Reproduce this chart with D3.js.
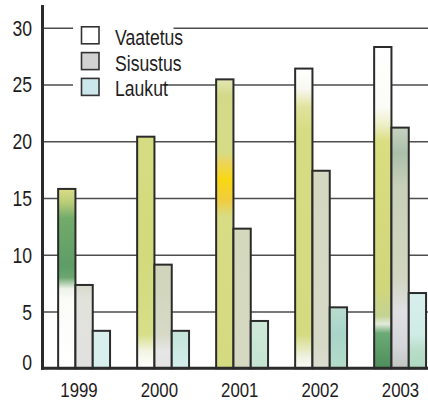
<!DOCTYPE html>
<html>
<head>
<meta charset="utf-8">
<script src="https://cdn.jsdelivr.net/npm/d3@7"></script>
<style>
  body { margin: 0; background: #fff; }
  svg { display: block; }
  text { font-family: "Liberation Sans", Arial, sans-serif; fill: #1f1c1d; }
</style>
</head>
<body>
<script>
// data
const years = ['1999', '2000', '2001', '2002', '2003'];
const series = ['Vaatetus', 'Sisustus', 'Laukut'];
const vaatetus = [15.8, 20.4, 25.45, 26.4, 28.3];
const sisustus = [7.34, 9.13, 12.3, 17.4, 21.2];
const laukut = [3.3, 3.3, 4.17, 5.37, 6.63];
const yTicks = [0, 5, 10, 15, 20, 25, 30];

const values = [vaatetus, sisustus, laukut];
const legendFill = ['#ffffff', '#d2d2d2', '#cbe7eb'];

// photo-like fill of each bar: [value, colour] stops, top to bottom
const textures = [
  [
    [[15.8, '#dadd86'], [14.6, '#b9cc78'], [13.2, '#72aa6a'], [9, '#5d9d66'], [8, '#6ca670'], [7, '#eef3ea'], [6, '#fbfcf8'], [0, '#ffffff']],
    [[20.4, '#d6dc82'], [10, '#d2da7c'], [3, '#d6de88'], [1.5, '#f3f5e4'], [0, '#ffffff']],
    [[25.45, '#e2e6b4'], [24, '#d3d988'], [19, '#d6dc86'], [18.2, '#ecd460'], [16.6, '#f8d812'], [14.8, '#f0cc40'], [13.4, '#d8dc84'], [0, '#d4da80']],
    [[26.4, '#ffffff'], [24.6, '#f8f8f2'], [23, '#e0e39c'], [21, '#d6dc82'], [3, '#d4da80'], [1, '#f0f2e0'], [0, '#fbfbf8']],
    [[28.3, '#ffffff'], [23, '#fbfbf8'], [21.5, '#eef0c8'], [20, '#dade80'], [7, '#d0d67a'], [4.6, '#c4d294'], [3.9, '#e2ecda'], [3.1, '#6caa76'], [0, '#4e8e5c']]
  ],
  [
    [[7.34, '#d8dacb'], [6, '#e2e2dc'], [0, '#e0e0e0']],
    [[9.13, '#d0d4ba'], [3, '#d6d9c6'], [1.5, '#e6e6e6'], [0, '#e4e4e4']],
    [[12.3, '#d4d8bc'], [0, '#d6d9c2']],
    [[17.4, '#d4d8c0'], [2, '#d6d9c6'], [0, '#dcded2']],
    [[21.2, '#c8d2c0'], [19, '#aac0aa'], [16, '#c8d0b8'], [8, '#d2d6c0'], [5, '#dfdfe4'], [2, '#d4d6da'], [0, '#c2c6c0']]
  ],
  [
    [[3.3, '#d8efed'], [0, '#d6eeec']],
    [[3.3, '#c4e4d8'], [0, '#d4eeec']],
    [[4.17, '#cfe9d8'], [0, '#c4e4d2']],
    [[5.37, '#badcd0'], [3, '#a9d4c8'], [0, '#b4dcc8']],
    [[6.63, '#d8efed'], [3, '#d0ece6'], [1.5, '#b8dcc8'], [0, '#b0d8c0']]
  ]
];

const width = 428, height = 401;
const axisX = 42.5;
const narrow = 0.8; // the original type is a condensed face

// squeeze a text element horizontally
function condense(sel) {
  sel.each(function() {
    const w = this.getComputedTextLength();
    d3.select(this)
        .attr('textLength', w * narrow)
        .attr('lengthAdjust', 'spacingAndGlyphs');
  });
}

const svg = d3.select('body').append('svg')
    .attr('width', width)
    .attr('height', height);

const y = d3.scaleLinear()
    .domain([0, 32])
    .range([368.3, 5]);

const x0 = d3.scaleBand()
    .domain(years)
    .range([axisX, 441.7])
    .paddingInner(0.343)
    .paddingOuter(0.198);

const x1 = d3.scaleBand()
    .domain(series)
    .range([0, x0.bandwidth()]);

// labels sit on their own slightly wider spacing
const xLabel = d3.scalePoint()
    .domain(years)
    .range([79, 400.5]);

// gridlines
svg.append('g')
    .attr('transform', `translate(${axisX},0)`)
    .call(d3.axisLeft(y).tickValues(yTicks.slice(1)).tickSize(-(width - axisX)).tickFormat(''))
    .call(g => g.select('.domain').remove())
    .call(g => g.selectAll('line').attr('stroke', '#4d4d4d').attr('stroke-width', 1.6));

// legend (white behind it cuts the gridlines)
const legend = svg.append('g');
const item = legend.selectAll('g')
    .data(series)
    .enter()
  .append('g')
    .attr('transform', (d, i) => `translate(0,${35.3 + i * 25.8})`);

item.append('text')
    .attr('x', 115)
    .attr('y', 9.5)
    .style('font-size', '22px')
    .text(d => d)
    .call(condense);

item.insert('rect', 'text')
    .attr('x', 73)
    .attr('y', -12)
    .attr('height', 24)
    .attr('width', function() {
      return 115 - 73 + this.parentNode.querySelector('text').getComputedTextLength() * narrow + 4;
    })
    .attr('fill', '#fff');

item.append('rect')
    .attr('x', 81.5)
    .attr('y', -8.5)
    .attr('width', 17.5)
    .attr('height', 17)
    .attr('fill', (d, i) => legendFill[i])
    .attr('stroke', '#333')
    .attr('stroke-width', 1.6);

// bar gradients
const defs = svg.append('defs');
values.forEach((vals, s) => {
  vals.forEach((v, j) => {
    const grad = defs.append('linearGradient')
        .attr('id', `g${s}${j}`)
        .attr('x1', 0).attr('x2', 0).attr('y1', 0).attr('y2', 1);
    grad.selectAll('stop')
        .data(textures[s][j])
        .enter()
      .append('stop')
        .attr('offset', d => Math.max(0, Math.min(1, (v - d[0]) / v)))
        .attr('stop-color', d => d[1]);
  });
});

// bars
const groups = svg.append('g')
    .selectAll('g')
    .data(years)
    .enter()
  .append('g')
    .attr('transform', d => `translate(${x0(d)},0)`);

groups.selectAll('rect')
    .data((d, j) => series.map((s, i) => ({ s, i, j, v: values[i][j] })))
    .enter()
  .append('rect')
    .attr('x', d => x1(d.s))
    .attr('y', d => y(d.v))
    .attr('width', x1.bandwidth())
    .attr('height', d => y(0) - y(d.v))
    .attr('fill', d => `url(#g${d.i}${d.j})`)
    .attr('stroke', '#2b2b2b')
    .attr('stroke-width', 2);

// y axis line and baseline
svg.append('line')
    .attr('x1', axisX).attr('x2', axisX)
    .attr('y1', y(32)).attr('y2', y(0) + 1.5)
    .attr('stroke', '#2b2b2b').attr('stroke-width', 3);

svg.append('line')
    .attr('x1', axisX - 1.5).attr('x2', width)
    .attr('y1', y(0)).attr('y2', y(0))
    .attr('stroke', '#2b2b2b').attr('stroke-width', 3);

// y tick labels
svg.append('g')
    .selectAll('text')
    .data(yTicks)
    .enter()
  .append('text')
    .attr('x', 32)
    .attr('y', d => y(d) + (d === 0 ? 1.5 : 8))
    .attr('text-anchor', 'end')
    .style('font-size', '22px')
    .text(d => d)
    .call(condense);

// x labels
svg.append('g')
    .selectAll('text')
    .data(years)
    .enter()
  .append('text')
    .attr('x', d => xLabel(d))
    .attr('y', 396.5)
    .attr('text-anchor', 'middle')
    .style('font-size', '21px')
    .text(d => d)
    .call(condense);
</script>
</body>
</html>
